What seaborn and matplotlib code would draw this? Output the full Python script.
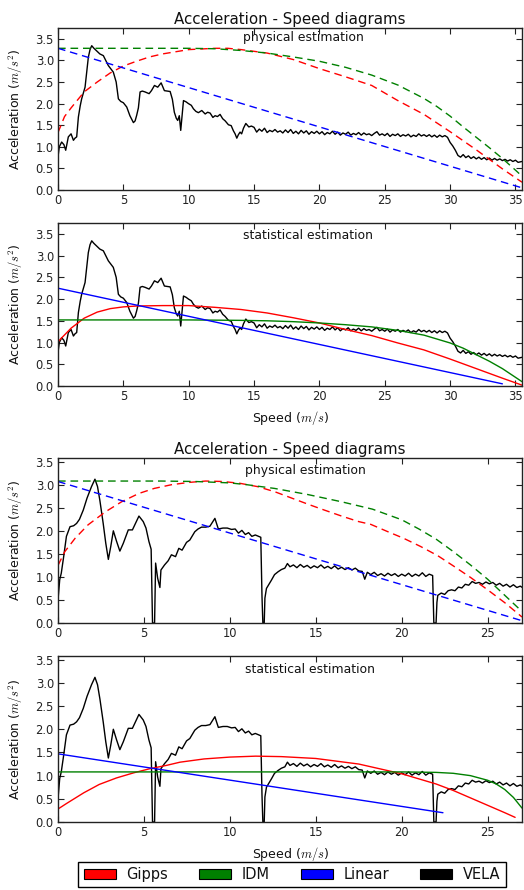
import numpy as np
import pandas as pd
import matplotlib
matplotlib.use("Agg")
import matplotlib.pyplot as plt
import seaborn as sns
from matplotlib.patches import Patch

# ---------------- data: dataset 1 (top two panels) ----------------
vela1_speed = [
    0.00, 0.10, 0.28, 0.45, 0.59, 0.79, 1.00, 1.18, 1.30, 1.43,
    1.56, 1.70, 1.81, 2.07, 2.20, 2.32, 2.45, 2.58, 2.75, 2.96,
    3.20, 3.47, 3.65, 3.85, 4.05, 4.23, 4.45, 4.62, 4.80, 5.00,
    5.26, 5.50, 5.77, 5.90, 6.02, 6.15, 6.28, 6.45, 6.66, 6.97,
    7.15, 7.38, 7.63, 7.89, 8.14, 8.35, 8.58, 8.75, 8.90, 9.05,
    9.16, 9.28, 9.39, 9.50, 9.60, 9.80, 9.98, 10.20, 10.36, 10.55,
    10.74, 11.00, 11.26, 11.45, 11.64, 11.85, 12.02, 12.20, 12.40, 12.60,
    12.79, 13.04, 13.25, 13.42, 13.55, 13.68, 13.80, 13.93, 14.05, 14.19,
    14.37, 14.60, 14.80,
    15.0, 15.2, 15.4, 15.6, 15.8, 16.0, 16.2, 16.4, 16.6, 16.8,
    17.0, 17.2, 17.4, 17.6, 17.8, 18.0, 18.2, 18.4, 18.6, 18.8,
    19.0, 19.2, 19.4, 19.6, 19.8, 20.0, 20.2, 20.4, 20.6, 20.8,
    21.0, 21.2, 21.4, 21.6, 21.8, 22.0, 22.2, 22.4, 22.6, 22.8,
    23.0, 23.2, 23.4, 23.6, 23.8, 24.0, 24.2, 24.4, 24.6, 24.8,
    25.0, 25.2, 25.4, 25.6, 25.8, 26.0, 26.2, 26.4, 26.6, 26.8,
    27.0, 27.2, 27.4, 27.6, 27.8, 28.0, 28.2, 28.4, 28.6, 28.8,
    29.0, 29.2, 29.4, 29.6, 29.8,
    30.0, 30.2, 30.4, 30.6, 30.8, 31.0, 31.2, 31.4, 31.6, 31.8,
    32.0, 32.2, 32.4, 32.6, 32.8, 33.0, 33.2, 33.4, 33.6, 33.8,
    34.0, 34.2, 34.4, 34.6, 34.8, 35.0, 35.2, 35.5,
]
vela1_accel = [
    0.77, 1.00, 1.11, 1.05, 0.92, 1.23, 1.30, 1.15, 1.20, 1.23,
    1.69, 1.95, 2.11, 2.38, 2.75, 3.07, 3.25, 3.34, 3.28, 3.22,
    3.15, 3.11, 3.00, 2.88, 2.80, 2.73, 2.50, 2.11, 2.05, 2.02,
    1.92, 1.72, 1.56, 1.60, 1.73, 1.90, 2.27, 2.29, 2.27, 2.23,
    2.30, 2.42, 2.38, 2.48, 2.30, 2.29, 2.28, 2.10, 1.80, 1.66,
    1.61, 1.72, 1.38, 1.75, 2.07, 2.04, 2.00, 1.96, 1.88, 1.82,
    1.79, 1.84, 1.76, 1.80, 1.78, 1.68, 1.72, 1.70, 1.75, 1.65,
    1.60, 1.51, 1.49, 1.37, 1.30, 1.20, 1.28, 1.34, 1.30, 1.43,
    1.54, 1.46, 1.48,
    1.45, 1.34, 1.41, 1.36, 1.43, 1.33, 1.38, 1.35, 1.40, 1.34,
    1.37, 1.32, 1.39, 1.33, 1.40, 1.31, 1.36, 1.30, 1.38, 1.32,
    1.37, 1.29, 1.35, 1.31, 1.36, 1.30, 1.35, 1.28, 1.33, 1.30,
    1.36, 1.29, 1.34, 1.27, 1.32, 1.29, 1.34, 1.27, 1.31, 1.28,
    1.33, 1.27, 1.32, 1.28, 1.30, 1.26, 1.31, 1.35, 1.27, 1.30,
    1.26, 1.31, 1.24, 1.29, 1.26, 1.30, 1.24, 1.28, 1.25, 1.29,
    1.23, 1.27, 1.24, 1.30, 1.25, 1.28, 1.24, 1.28, 1.23, 1.27,
    1.22, 1.27, 1.23, 1.26, 1.22,
    1.10, 1.02, 0.92, 0.80, 0.76, 0.82, 0.75, 0.79, 0.73, 0.77,
    0.72, 0.76, 0.71, 0.75, 0.70, 0.74, 0.69, 0.73, 0.69, 0.72,
    0.68, 0.71, 0.67, 0.70, 0.66, 0.69, 0.64, 0.66,
]

gipps_phys1_speed = [0, 0.5, 1, 2, 3, 4, 5, 6, 7, 8, 10, 12, 13, 14, 16, 18, 20, 22, 24, 26, 28, 30, 32, 34, 35.5]
gipps_phys1_accel = [1.33, 1.70, 1.90, 2.27, 2.50, 2.71, 2.87, 2.98, 3.08, 3.15, 3.25, 3.28, 3.28, 3.25, 3.17, 3.02, 2.81, 2.62, 2.42, 2.07, 1.75, 1.35, 0.93, 0.49, 0.18]
idm_phys1_speed = [0, 5, 10, 12, 14, 16, 18, 20, 22, 24, 26, 28, 29, 30, 31, 32, 33, 34, 35, 35.5]
idm_phys1_accel = [3.28, 3.28, 3.28, 3.27, 3.23, 3.17, 3.08, 2.98, 2.84, 2.66, 2.43, 2.12, 1.93, 1.71, 1.46, 1.22, 0.98, 0.73, 0.46, 0.32]
linear_phys1_speed = [0, 35.5]
linear_phys1_accel = [3.28, 0.05]

gipps_stat1_speed = [0, 1, 2, 3, 4, 5, 6, 8, 10, 12, 14, 16, 18, 20, 22, 24, 26, 28, 30, 32, 34, 35.5]
gipps_stat1_accel = [1.02, 1.33, 1.56, 1.70, 1.78, 1.82, 1.84, 1.85, 1.85, 1.81, 1.76, 1.68, 1.57, 1.45, 1.30, 1.16, 0.99, 0.83, 0.62, 0.40, 0.18, 0.02]
idm_stat1_speed = [0, 10, 14, 16, 18, 20, 22, 24, 26, 28, 30, 31, 32, 33, 34, 35, 35.5]
idm_stat1_accel = [1.52, 1.52, 1.51, 1.50, 1.48, 1.45, 1.41, 1.36, 1.28, 1.17, 0.99, 0.87, 0.72, 0.57, 0.40, 0.20, 0.10]
linear_stat1_speed = [0, 34]
linear_stat1_accel = [2.25, 0.05]

# ---------------- data: dataset 2 (bottom two panels) ----------------
vela2_speed = [
    0.00, 0.10, 0.19, 0.33, 0.49, 0.70, 0.91, 1.08, 1.25, 1.47,
    1.69, 1.95, 2.15, 2.30, 2.44, 2.63, 2.78, 2.93, 3.07, 3.22,
    3.41, 3.60, 3.80, 4.09, 4.33, 4.53, 4.71, 4.96, 5.12, 5.29,
    5.42, 5.50, 5.62, 5.68, 5.80, 5.93, 5.99, 6.20, 6.41, 6.60,
    6.84, 7.03, 7.22, 7.48, 7.67, 7.96, 8.15, 8.35, 8.60, 8.84,
    9.13, 9.33, 9.60, 9.85, 10.10, 10.31, 10.50, 10.70, 10.90, 11.09,
    11.28, 11.48, 11.68, 11.80, 11.87, 11.92, 12.00, 12.04, 12.13, 12.42,
    12.60, 12.80, 13.00, 13.20, 13.35, 13.50,
    13.7, 13.9, 14.1, 14.3, 14.5, 14.7, 14.9, 15.1, 15.3, 15.5,
    15.7, 15.9, 16.1, 16.3, 16.5, 16.7, 16.9, 17.1, 17.3, 17.5, 17.7,
    17.85, 18.0, 18.2, 18.4, 18.6, 18.8, 19.0, 19.2, 19.4, 19.6,
    19.8, 20.0, 20.2, 20.4, 20.6, 20.8, 21.0, 21.2, 21.4, 21.6, 21.8,
    21.87, 22.0, 22.05, 22.1, 22.3, 22.5, 22.7, 22.9, 23.1, 23.3,
    23.5, 23.7, 23.9, 24.1, 24.3, 24.5, 24.7, 24.9, 25.1, 25.3,
    25.5, 25.7, 25.9, 26.1, 26.3, 26.5, 26.7, 26.9, 27.1,
]
vela2_accel = [
    0.50, 0.94, 1.08, 1.44, 1.88, 2.09, 2.11, 2.16, 2.25, 2.45,
    2.71, 2.96, 3.12, 2.96, 2.65, 2.16, 1.73, 1.38, 1.66, 2.00,
    1.77, 1.56, 1.73, 2.02, 2.02, 2.18, 2.32, 2.20, 2.06, 1.77,
    1.60, 0.00, 0.00, 1.30, 0.97, 0.77, 1.15, 1.26, 1.35, 1.48,
    1.44, 1.62, 1.58, 1.75, 1.80, 1.98, 2.04, 2.08, 2.08, 2.10,
    2.27, 2.04, 2.06, 2.06, 2.03, 2.04, 1.95, 2.01, 1.92, 1.96,
    1.88, 1.91, 1.88, 1.86, 0.58, 0.00, 0.00, 0.54, 0.75, 0.93,
    1.05, 1.11, 1.16, 1.19, 1.29, 1.22,
    1.26, 1.20, 1.27, 1.21, 1.25, 1.19, 1.24, 1.20, 1.26, 1.19,
    1.23, 1.18, 1.24, 1.17, 1.21, 1.16, 1.20, 1.15, 1.19, 1.13, 1.12,
    0.95, 1.10, 1.05, 1.10, 1.03, 1.07, 1.02, 1.08, 1.03, 1.07,
    1.01, 1.06, 1.02, 1.08, 1.01, 1.06, 1.02, 1.09, 1.01, 1.06, 1.03,
    0.00, 0.00, 0.45, 0.60, 0.65, 0.62, 0.70, 0.72, 0.70, 0.78,
    0.76, 0.84, 0.82, 0.90, 0.86, 0.88, 0.84, 0.89, 0.85, 0.88,
    0.82, 0.86, 0.80, 0.84, 0.78, 0.83, 0.77, 0.80, 0.75,
]

gipps_phys2_speed = [0, 0.4, 1, 1.75, 2.75, 3.7, 4.7, 5.6, 6.6, 7.6, 8.6, 9.6, 10.6, 11.6, 12.6,
                     13.6, 14.6, 15.5, 16.5, 17.5, 18.2, 19.2, 20.1, 21.1, 22.1, 23.0, 24.0, 25.0, 26.0, 27.0]
gipps_phys2_accel = [1.25, 1.55, 1.84, 2.13, 2.41, 2.63, 2.81, 2.92, 3.00, 3.05, 3.08, 3.07, 3.03, 2.96, 2.85,
                     2.71, 2.57, 2.45, 2.32, 2.20, 2.14, 1.98, 1.84, 1.66, 1.46, 1.24, 0.99, 0.72, 0.44, 0.13]
idm_phys2_speed = [0, 6, 8, 10, 11, 12.6, 14.5, 16.5, 18.3, 20, 21, 22, 23, 24, 25, 26, 27]
idm_phys2_accel = [3.08, 3.08, 3.07, 3.04, 3.00, 2.92, 2.79, 2.63, 2.47, 2.24, 2.04, 1.82, 1.55, 1.26, 0.95, 0.60, 0.25]
linear_phys2_speed = [0, 27]
linear_phys2_accel = [3.07, 0.05]

gipps_stat2_speed = [0, 0.5, 1.5, 2.4, 3.4, 4.4, 5.35, 6.3, 7.1, 8.5, 10, 11.5, 13, 15, 17.5, 20, 22, 23, 24, 25, 26, 26.6]
gipps_stat2_accel = [0.28, 0.40, 0.63, 0.81, 0.95, 1.06, 1.15, 1.22, 1.29, 1.36, 1.40, 1.42, 1.41, 1.37, 1.25, 1.04, 0.82, 0.68, 0.52, 0.36, 0.20, 0.10]
idm_stat2_speed = [0, 20, 22, 23, 24, 25, 25.5, 26, 26.5, 27]
idm_stat2_accel = [1.08, 1.08, 1.07, 1.05, 1.00, 0.90, 0.82, 0.70, 0.53, 0.30]
linear_stat2_speed = [0, 22.4]
linear_stat2_accel = [1.47, 0.20]

model_names = ["Gipps", "IDM", "Linear", "VELA"]
model_colors = ["#ff0000", "#008000", "#0000ff", "#000000"]
panel_titles = ["physical estimation", "statistical estimation"]
title_text = "Acceleration - Speed diagrams"
xlabel_text = "Speed ($m/s$)"
ylabel_text = "Acceleration ($m/s^2$)"
yticks = [0.0, 0.5, 1.0, 1.5, 2.0, 2.5, 3.0, 3.5]

# ---------------- style ----------------
sns.set_style("ticks")
plt.rcParams.update({
    "font.family": ["DejaVu Sans"],
    "mathtext.fontset": "cm",
    "axes.edgecolor": "#222222",
    "axes.linewidth": 1.0,
    "xtick.direction": "in",
    "ytick.direction": "in",
    "xtick.top": True,
    "ytick.right": True,
    "xtick.major.size": 4,
    "ytick.major.size": 4,
    "xtick.color": "#222222",
    "ytick.color": "#222222",
    "xtick.labelsize": 8.3,
    "ytick.labelsize": 8.3,
    "text.color": "#111111",
    "axes.labelcolor": "#111111",
})

fig = plt.figure(figsize=(5.24, 8.90), dpi=100)
W, H = 524.0, 890.0
left, right = 58, 522
boxes = [(28, 190), (223, 386), (458, 623), (656, 822)]
axes = [fig.add_axes([left / W, 1 - b / H, (right - left) / W, (b - t) / H]) for t, b in boxes]


def draw(ax, x, y, color, dashed):
    sns.lineplot(x=x, y=y, ax=ax, color=color, linewidth=1.0,
                 estimator=None, sort=False)
    if dashed:
        ax.lines[-1].set_dashes((5.5, 3.5))


panels = [
    (vela1_speed, vela1_accel, [(gipps_phys1_speed, gipps_phys1_accel), (idm_phys1_speed, idm_phys1_accel), (linear_phys1_speed, linear_phys1_accel)], True, 35.5, 3.75),
    (vela1_speed, vela1_accel, [(gipps_stat1_speed, gipps_stat1_accel), (idm_stat1_speed, idm_stat1_accel), (linear_stat1_speed, linear_stat1_accel)], False, 35.5, 3.75),
    (vela2_speed, vela2_accel, [(gipps_phys2_speed, gipps_phys2_accel), (idm_phys2_speed, idm_phys2_accel), (linear_phys2_speed, linear_phys2_accel)], True, 27.0, 3.58),
    (vela2_speed, vela2_accel, [(gipps_stat2_speed, gipps_stat2_accel), (idm_stat2_speed, idm_stat2_accel), (linear_stat2_speed, linear_stat2_accel)], False, 27.0, 3.58),
]
text_pos = [(0.528, 0.944), (0.539, 0.926), (0.534, 0.923), (0.544, 0.92)]

for i, (ax, (vs, va, models, dashed, xmax, ymax)) in enumerate(zip(axes, panels)):
    draw(ax, vs, va, model_colors[3], False)
    for (ms, ma), col in zip(models, model_colors[:3]):
        draw(ax, ms, ma, col, dashed)
    ax.set_xlim(0, xmax)
    ax.set_ylim(0, ymax)
    ax.set_yticks(yticks)
    ax.set_xticks(list(range(0, int(xmax) + 1, 5)))
    ax.yaxis.set_major_formatter(matplotlib.ticker.FormatStrFormatter("%.1f"))
    ax.set_ylabel(ylabel_text, fontsize=9)
    ax.yaxis.set_label_coords(-0.072, 0.5)
    ax.tick_params(pad=3)
    ax.text(text_pos[i][0], text_pos[i][1], panel_titles[i % 2], transform=ax.transAxes,
            ha="center", va="center", fontsize=8.9)
    if i % 2 == 0:
        ax.set_title(title_text, fontsize=10.8, pad=3)
        ax.set_xlabel("")
    else:
        ax.set_xlabel(xlabel_text, fontsize=9, labelpad=4)

handles = [Patch(facecolor=c, edgecolor="black", linewidth=0.8, label=n)
           for n, c in zip(model_names, model_colors)]
fig.legend(handles=handles, loc="center", bbox_to_anchor=(292 / W, 1 - 874.5 / H),
           ncol=4, fontsize=10.5, frameon=True, fancybox=False, edgecolor="black",
           framealpha=1, handlelength=2.2, handleheight=0.75, handletextpad=0.75,
           columnspacing=2.1, borderpad=0.35, borderaxespad=0)

fig.savefig("out.png", dpi=100)
